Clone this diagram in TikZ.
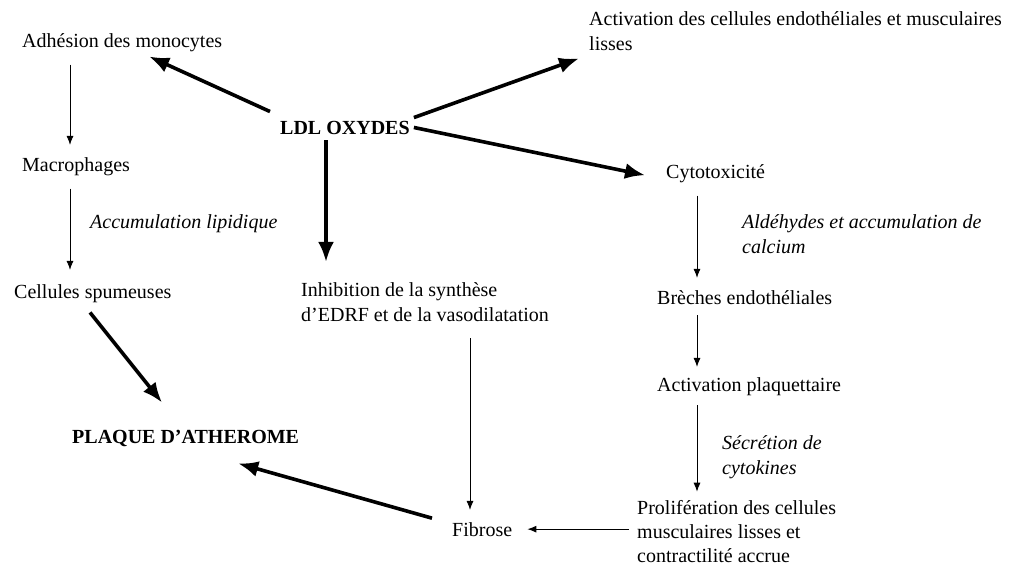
\documentclass[tikz,border=0pt]{standalone}
\usepackage{fontspec}
\setmainfont{Liberation Serif}
\usetikzlibrary{arrows.meta}
\newcommand{\taille}{\fontsize{20}{25}\selectfont}
\tikzset{
  etape/.style = {anchor=base west, inner sep=2pt, align=left, font=\taille},
  note/.style = {etape, font=\taille\itshape},
  titre/.style = {etape, font=\taille\bfseries},
  fleche/.style = {-{Latex[length=9pt,width=7pt]}, line width=0.9pt},
  grosse/.style = {-{Latex[length=20pt,width=16pt]}, line width=3.6pt}
}

\begin{document}
\begin{tikzpicture}[x=1pt,y=-1pt,font=\taille]
\useasboundingbox (0,0) rectangle (1011,567);

% left column
\node[etape] (adh) at (20,48) {Adhésion des monocytes};
\node[etape] (mac) at (20,171) {Macrophages};
\node[etape] (spu) at (12,298) {Cellules spumeuses};
\node[titre] (plq) at (70,443) {PLAQUE D’ATHEROME};

% middle (multi-line nodes sit on their last line)
\node[titre] (ldl) at (278,134) {LDL OXYDES};
\node[etape] (inh) at (299,321) {Inhibition de la synthèse\\d’EDRF et de la vasodilatation};
\node[etape] (fib) at (450,536) {Fibrose};

% right column
\node[etape] (act) at (587,51) {Activation des cellules endothéliales et musculaires\\lisses};
\node[etape] (cyt) at (664,178) {Cytotoxicité};
\node[etape] (bre) at (655,304) {Brèches endothéliales};
\node[etape] (pla) at (655,391) {Activation plaquettaire};
\node[etape, font=\fontsize{20}{24}\selectfont] (pro) at (635,562)
  {Prolifération des cellules\\musculaires lisses et\\contractilité accrue};

% notes beside the arrows
\node[note] (acc) at (88,228) {Accumulation lipidique};
\node[note] (ald) at (740,253) {Aldéhydes et accumulation de\\calcium};
\node[note] (sec) at (720,474) {Sécrétion de\\cytokines};

% x of the vertical arrows
\coordinate (xg) at (70,0);
\coordinate (xm) at (326,0);
\coordinate (xf) at (470,0);
\coordinate (xd) at (697,0);

% thick arrows
\draw[grosse] ([shift={(-8,-7)}]ldl.north west) -- ([shift={(27,2)}]adh.south);
\draw[grosse] ([shift={(2,-1)}]ldl.north east) -- ([shift={(-8,5)}]act.south west);
\draw[grosse] ([xshift=2pt]ldl.east) -- ([shift={(-19,2)}]cyt.west);
\draw[grosse, shorten <=4pt, shorten >=18pt] (ldl.south -| xm) -- (inh.north -| xm);
\draw[grosse] ([shift={(78,8)}]spu.south west) -- ([shift={(92,-25)}]plq.north west);
\draw[grosse] ([shift={(-18,-11)}]fib.west) -- ([shift={(-63,15)}]plq.south east);

% thin arrows
\draw[fleche, shorten <=10pt, shorten >=10pt] (adh.south -| xg) -- (mac.north -| xg);
\draw[fleche, shorten <=11pt, shorten >=12pt] (mac.south -| xg) -- (spu.north -| xg);
\draw[fleche, shorten <=15pt, shorten >=10pt] (inh.south -| xf) -- (fib.north -| xf);
\draw[fleche, shorten <=11pt, shorten >=10pt] (cyt.south -| xd) -- (bre.north -| xd);
\draw[fleche, shorten <=9pt, shorten >=8pt] (bre.south -| xd) -- (pla.north -| xd);
\draw[fleche, shorten <=8pt, shorten >=6pt] (pla.south -| xd) -- (pro.north -| xd);
\draw[fleche, shorten <=6pt, shorten >=13pt] (pro.west |- fib.east) -- (fib.east);
\end{tikzpicture}
\end{document}
